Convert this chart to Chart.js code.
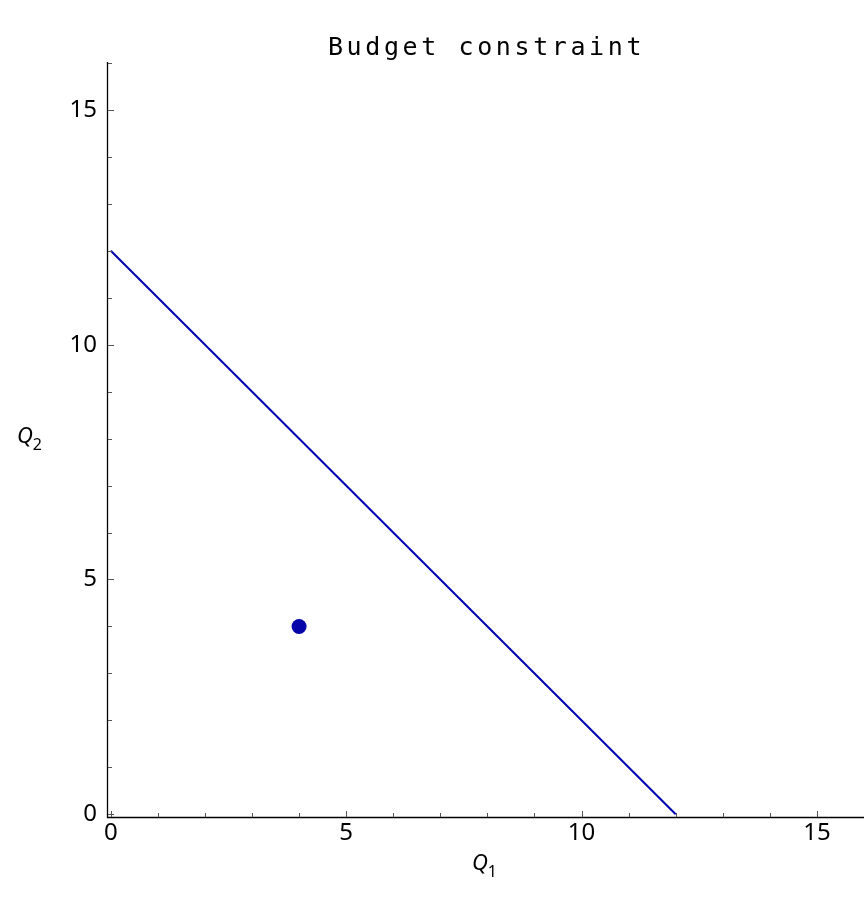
<!DOCTYPE html>
<html>
<head>
<meta charset="utf-8">
<script src="https://cdn.jsdelivr.net/npm/chart.js@4.4.1/dist/chart.umd.min.js"></script>
<style>
html,body{margin:0;padding:0;background:#fff;overflow:hidden;}
#wrap{width:864px;height:908px;}
canvas{display:block;}
</style>
</head>
<body>
<div id="wrap"><canvas id="c" width="864" height="908"></canvas></div>
<script>
// Data
const budgetQ1 = [0, 12];
const budgetQ2 = [12, 0];
const bundleQ1 = [4];
const bundleQ2 = [4];
const majorTicks = [0, 5, 10, 15];
const minorTicks = [0,1,2,3,4,5,6,7,8,9,10,11,12,13,14,15,16];
const titleText = 'Budget constraint';

const lineColor = 'rgb(0,0,178)';
const pointColor = 'rgb(5,5,170)';

const axesPlugin = {
  id: 'axesPlugin',
  afterDraw(chart) {
    const ctx = chart.ctx;
    const a = chart.chartArea;
    const xs = chart.scales.x, ys = chart.scales.y;
    ctx.save();
    // axis lines
    ctx.strokeStyle = '#000';
    ctx.lineWidth = 1.3;
    ctx.beginPath();
    ctx.moveTo(a.left + 0.5, a.top - 1);
    ctx.lineTo(a.left + 0.5, a.bottom - 0.5);
    ctx.lineTo(a.right, a.bottom - 0.5);
    ctx.stroke();
    // ticks
    ctx.lineWidth = 1;
    ctx.strokeStyle = '#555';
    minorTicks.forEach(v => {
      const major = majorTicks.includes(v);
      const len = major ? 6 : 4;
      const px = Math.round(xs.getPixelForValue(v)) + 0.5;
      if (px <= a.right) {
        ctx.beginPath();
        ctx.moveTo(px, a.bottom - 1);
        ctx.lineTo(px, a.bottom - 1 - len);
        ctx.stroke();
      }
      const py = Math.round(ys.getPixelForValue(v)) + 0.5;
      if (py >= a.top - 1) {
        ctx.beginPath();
        ctx.moveTo(a.left + 1, py);
        ctx.lineTo(a.left + 1 + len, py);
        ctx.stroke();
      }
    });
    // title
    ctx.fillStyle = '#000';
    ctx.font = '25px "DejaVu Sans Mono"';
    try { ctx.letterSpacing = '3.6px'; } catch (e) {}
    const w = ctx.measureText(titleText).width;
    ctx.textBaseline = 'alphabetic';
    ctx.textAlign = 'left';
    ctx.fillText(titleText, (a.left + a.right) / 2 - w / 2 + 1, 55);
    try { ctx.letterSpacing = '0px'; } catch (e) {}
    // axis titles
    function drawQ(x, y, sub) {
      ctx.font = 'italic 22px "Noto Sans"';
      ctx.fillText('Q', x, y);
      const qw = ctx.measureText('Q').width;
      ctx.font = '16px "Noto Sans"';
      ctx.fillText(sub, x + qw, y + 7);
    }
    drawQ(472, 870, '1');
    drawQ(17, 443, '2');
    ctx.restore();
  }
};

const chart = new Chart(document.getElementById('c'), {
  type: 'scatter',
  data: {
    datasets: [
      {
        label: 'Budget line',
        data: budgetQ1.map((q, i) => ({x: q, y: budgetQ2[i]})),
        showLine: true,
        borderColor: lineColor,
        borderWidth: 2,
        pointRadius: 0,
        fill: false
      },
      {
        label: 'Bundle',
        data: bundleQ1.map((q, i) => ({x: q, y: bundleQ2[i]})),
        pointRadius: 7.5,
        pointBackgroundColor: pointColor,
        pointBorderColor: pointColor,
        pointBorderWidth: 0
      }
    ]
  },
  options: {
    responsive: false,
    animation: false,
    devicePixelRatio: 1,
    layout: { autoPadding: false, padding: { top: 63, right: 0, left: 0, bottom: 0 } },
    plugins: { legend: { display: false }, title: { display: false }, tooltip: { enabled: false } },
    scales: {
      x: {
        type: 'linear',
        min: -0.08, max: 16,
        afterBuildTicks(s) { s.ticks = majorTicks.map(v => ({value: v})); },
        afterFit(s) { s.height = 90; s.paddingLeft = 0; s.paddingRight = 0; },
        grid: { display: false, drawTicks: false },
        border: { display: false },
        ticks: {
          padding: 1,
          color: '#000',
          font: { family: '"Noto Sans"', size: 24 },
          callback: v => String(v),
          maxRotation: 0
        }
      },
      y: {
        type: 'linear',
        min: -0.08, max: 16,
        afterBuildTicks(s) { s.ticks = majorTicks.map(v => ({value: v})); },
        afterFit(s) { s.width = 107; s.paddingTop = 0; s.paddingBottom = 0; },
        grid: { display: false, drawTicks: false },
        border: { display: false },
        ticks: {
          padding: 10,
          color: '#000',
          font: { family: '"Noto Sans"', size: 24 },
          callback: v => String(v)
        }
      }
    }
  },
  plugins: [axesPlugin]
});
</script>
</body>
</html>
